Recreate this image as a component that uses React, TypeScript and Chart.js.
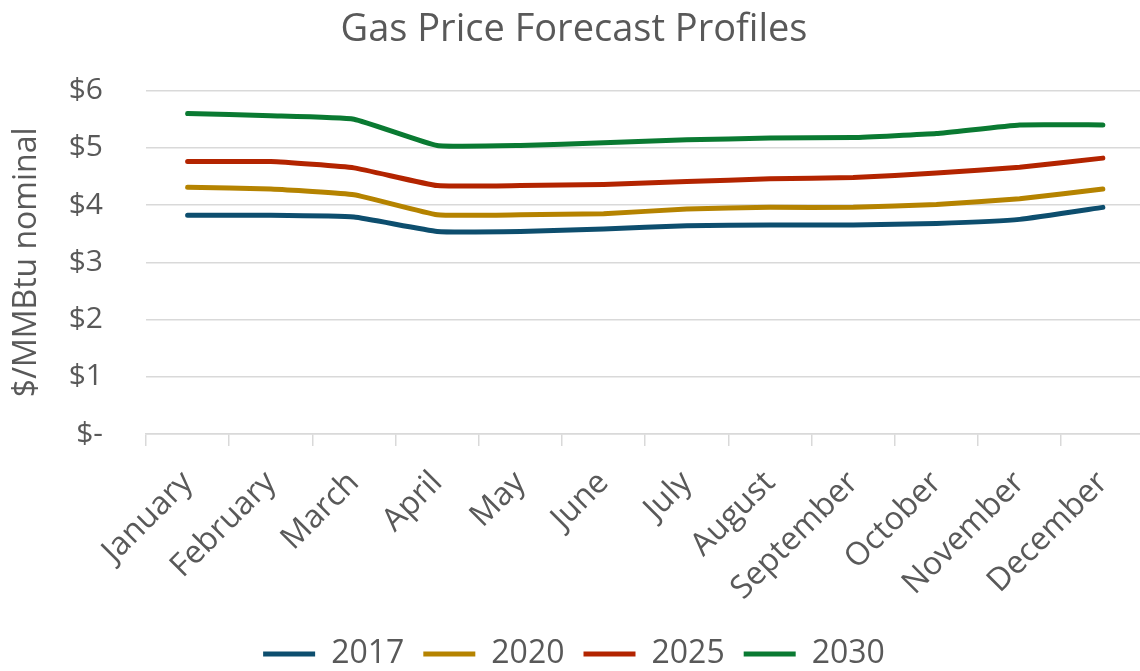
import React, { useEffect, useRef } from "react";
import { Chart, registerables } from "chart.js";

Chart.register(...registerables);

const chartTitle = "Gas Price Forecast Profiles";
const yAxisTitle = "$/MMBtu nominal";

const months = [
  "January", "February", "March", "April", "May", "June",
  "July", "August", "September", "October", "November", "December",
];

const price2017 = [3.82, 3.82, 3.79, 3.54, 3.54, 3.58, 3.64, 3.65, 3.65, 3.68, 3.75, 3.96];
const price2020 = [4.31, 4.28, 4.18, 3.83, 3.83, 3.85, 3.93, 3.96, 3.96, 4.01, 4.11, 4.28];
const price2025 = [4.76, 4.76, 4.65, 4.34, 4.34, 4.36, 4.41, 4.46, 4.48, 4.56, 4.66, 4.82];
const price2030 = [5.6, 5.56, 5.5, 5.04, 5.04, 5.09, 5.14, 5.17, 5.18, 5.25, 5.4, 5.4];

const seriesNames = ["2017", "2020", "2025", "2030"];
const seriesValues = [price2017, price2020, price2025, price2030];
const seriesColors = ["#0D4E6E", "#B58300", "#B32400", "#0A7A32"];

const yTickLabels = ["$-", "$1", "$2", "$3", "$4", "$5", "$6"];

const FONT = "'Open Sans', sans-serif";
const TEXT = "#595959";
const GRID = "#D9D9D9";

export default function App() {
  const ref = useRef<HTMLCanvasElement | null>(null);

  useEffect(() => {
    if (!ref.current) return;
    Chart.defaults.font.family = FONT;
    Chart.defaults.color = TEXT;
    const chart = new Chart(ref.current, {
      type: "line",
      data: {
        labels: months,
        datasets: seriesNames.map((name, i) => ({
          label: name,
          data: seriesValues[i],
          borderColor: seriesColors[i],
          backgroundColor: seriesColors[i],
          borderWidth: 5,
          borderCapStyle: "round" as const,
          borderJoinStyle: "round" as const,
          pointRadius: 0,
          pointHoverRadius: 0,
          tension: 0.12,
          fill: false,
        })),
      },
      options: {
        animation: false,
        responsive: false,
        devicePixelRatio: 1,
        layout: { padding: { left: 0, right: 0, top: 0, bottom: -9 } },
        plugins: {
          title: {
            display: true,
            text: chartTitle,
            color: TEXT,
            font: { family: FONT, size: 38, weight: "normal" },
            padding: { top: 7, bottom: 38 },
          },
          legend: {
            display: true,
            position: "bottom",
            labels: {
              usePointStyle: true,
              pointStyle: "line",
              pointStyleWidth: 52,
              color: TEXT,
              font: { family: FONT, size: 32 },
              padding: 19,
            },
          },
          tooltip: { enabled: false },
        },
        scales: {
          x: {
            type: "category",
            offset: true,
            grid: {
              offset: true,
              drawOnChartArea: false,
              drawTicks: true,
              tickLength: 12,
              color: GRID,
              lineWidth: 1.5,
            },
            border: { display: true, color: GRID, width: 1.5 },
            ticks: {
              autoSkip: false,
              minRotation: 45,
              maxRotation: 45,
              padding: 18,
              color: TEXT,
              font: { family: FONT, size: 32 },
            },
            afterFit: (scale: any) => {
              scale.height = 185;
            },
          },
          y: {
            min: 0,
            max: 6,
            ticks: {
              stepSize: 1,
              padding: 43,
              color: TEXT,
              font: { family: FONT, size: 30 },
              callback: (v: any) => yTickLabels[Math.round(Number(v))] ?? "",
            },
            grid: { color: GRID, lineWidth: 1.5, drawTicks: false },
            border: { display: false },
            title: {
              display: true,
              text: yAxisTitle,
              color: TEXT,
              font: { family: FONT, size: 32 },
              padding: { top: 8, bottom: 0 },
            },
            afterFit: (scale: any) => {
              scale.width = 146;
            },
          },
        },
      },
    });
    return () => chart.destroy();
  }, []);

  return (
    <div
      style={{
        position: "fixed",
        left: 0,
        top: 0,
        width: 1140,
        height: 671,
        overflow: "hidden",
        background: "#ffffff",
      }}
    >
      <canvas ref={ref} width={1148} height={671} style={{ display: "block", width: 1148, height: 671 }} />
    </div>
  );
}
